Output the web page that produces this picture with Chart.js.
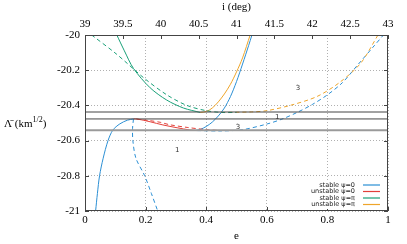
<!DOCTYPE html>
<html lang="en">
<head>
<meta charset="UTF-8">
<title>Lambda vs e</title>
<script src="https://cdn.jsdelivr.net/npm/chart.js"></script>
<style>
  html, body { margin: 0; padding: 0; background: #fff; }
  #wrap { width: 407px; height: 244px; }
</style>
</head>
<body>
<div id="wrap"><canvas id="chart"></canvas></div>
<script>
// curves as [e, Lambda] pairs
const stable0Left = [[0.035,-21],[0.041,-20.9],[0.048,-20.8],[0.06,-20.7],[0.076,-20.6],[0.092,-20.54],[0.115,-20.505],[0.14,-20.484],[0.16,-20.477]];
const stable0Right = [[0.363,-20.543],[0.38,-20.537],[0.40,-20.52],[0.42,-20.495],[0.44,-20.46],[0.46,-20.415],[0.48,-20.35],[0.50,-20.265],[0.52,-20.165],[0.54,-20.06],[0.551,-20]];
const stable0DashLeft = [[0.16,-20.477],[0.157,-20.53],[0.158,-20.6],[0.168,-20.7],[0.197,-20.8],[0.219,-20.9],[0.24,-21]];
const stable0DashRight = [[0.37,-20.543],[0.45,-20.545],[0.52,-20.538],[0.6,-20.506],[0.65,-20.478],[0.7,-20.44],[0.75,-20.395],[0.8,-20.34],[0.85,-20.27],[0.9,-20.17],[0.95,-20.07],[0.985,-20]];
const unstable0 = [[0.16,-20.477],[0.172,-20.477],[0.215,-20.493],[0.257,-20.511],[0.304,-20.527],[0.347,-20.54],[0.37,-20.543]];
const unstable0Dash = [[0.17,-20.478],[0.215,-20.487],[0.248,-20.496],[0.28,-20.51],[0.337,-20.525],[0.396,-20.537],[0.446,-20.543]];
const stablePi = [[0.105,-20],[0.13,-20.09],[0.16,-20.19],[0.215,-20.30],[0.27,-20.37],[0.325,-20.415],[0.38,-20.44]];
const stablePiDash = [[0.022,-20],[0.105,-20.11],[0.195,-20.245],[0.27,-20.34],[0.336,-20.40],[0.40,-20.43],[0.45,-20.44],[0.5,-20.44]];
const unstablePi = [[0.38,-20.44],[0.40,-20.435],[0.42,-20.415],[0.44,-20.38],[0.46,-20.335],[0.48,-20.28],[0.50,-20.21],[0.52,-20.13],[0.545,-20]];
const unstablePiDash = [[0.45,-20.44],[0.55,-20.437],[0.6,-20.43],[0.677,-20.40],[0.765,-20.35],[0.84,-20.27],[0.91,-20.16],[0.967,-20]];

const levels = [-20.4375, -20.477, -20.541];
const curveMarks = [['3', 0.703, -20.30], ['1', 0.634, -20.466], ['3', 0.505, -20.523], ['1', 0.304, -20.653]];
const legendLabels = ['stable \u03c8=0', 'unstable \u03c8=0', 'stable \u03c8=\u03c0', 'unstable \u03c8=\u03c0'];

const BLUE = '#2b8fd4', RED = '#e2403a', GREEN = '#19a078', ORANGE = '#eea52a';
const legendColors = [BLUE, RED, GREEN, ORANGE];
const serif = '"Times New Roman", "Liberation Serif", "DejaVu Serif", serif';

const pts = arr => arr.map(p => ({ x: p[0], y: p[1] }));
function curve(arr, color, dashed) {
  return {
    data: pts(arr), borderColor: color, borderWidth: 1, showLine: true,
    pointRadius: 0, tension: 0.3, borderDash: dashed ? [4, 3] : []
  };
}

const datasets = [
  { data: [{x: 0, y: levels[2]}, {x: 1, y: levels[2]}], borderColor: '#9a9a9a', borderWidth: 2, showLine: true, pointRadius: 0 },
  { data: [{x: 0, y: levels[0]}, {x: 1, y: levels[0]}], borderColor: '#444', borderWidth: 1, showLine: true, pointRadius: 0 },
  { data: [{x: 0, y: levels[1]}, {x: 1, y: levels[1]}], borderColor: '#444', borderWidth: 1, showLine: true, pointRadius: 0 },
  curve(stablePiDash, GREEN, true),
  curve(unstablePiDash, ORANGE, true),
  curve(stable0DashLeft, BLUE, true),
  curve(stable0DashRight, BLUE, true),
  curve(unstable0Dash, RED, true),
  curve(unstable0, RED, false),
  curve(stablePi, GREEN, false),
  curve(unstablePi, ORANGE, false),
  curve(stable0Left, BLUE, false),
  curve(stable0Right, BLUE, false)
];

// frame, inward ticks, y label, curve marks and legend
const extras = {
  id: 'extras',
  afterDraw(chart) {
    const { ctx, chartArea: a, scales } = chart;
    ctx.save();
    ctx.strokeStyle = '#444';
    ctx.lineWidth = 1;
    ctx.strokeRect(a.left + 0.5, a.top + 0.5, a.right - a.left - 1, a.bottom - a.top - 1);
    ctx.beginPath();
    scales.y.ticks.forEach(t => {
      const y = Math.round(scales.y.getPixelForValue(t.value)) + 0.5;
      ctx.moveTo(a.left, y); ctx.lineTo(a.left + 4, y);
      ctx.moveTo(a.right, y); ctx.lineTo(a.right - 4, y);
    });
    scales.x.ticks.forEach(t => {
      const x = Math.round(scales.x.getPixelForValue(t.value)) + 0.5;
      ctx.moveTo(x, a.bottom); ctx.lineTo(x, a.bottom - 4);
    });
    scales.x2.ticks.forEach(t => {
      const x = Math.round(scales.x2.getPixelForValue(t.value)) + 0.5;
      ctx.moveTo(x, a.top); ctx.lineTo(x, a.top + 4);
    });
    ctx.stroke();

    // y axis label
    ctx.fillStyle = '#000';
    ctx.textBaseline = 'alphabetic';
    ctx.textAlign = 'left';
    ctx.font = '11px ' + serif;
    let x = 4, base = 127;
    const s1 = '\u039b\u0304 (km';
    ctx.fillText(s1, x, base);
    x += ctx.measureText(s1).width;
    ctx.font = '8px ' + serif;
    ctx.fillText('1/2', x, base - 5);
    x += ctx.measureText('1/2').width;
    ctx.font = '11px ' + serif;
    ctx.fillText(')', x, base);

    // numbers on curves
    ctx.font = '7px "DejaVu Sans"';
    ctx.fillStyle = '#333';
    ctx.textAlign = 'center';
    ctx.textBaseline = 'middle';
    curveMarks.forEach(m => {
      ctx.fillText(m[0], scales.x.getPixelForValue(m[1]), scales.y.getPixelForValue(m[2]));
    });

    // legend
    ctx.fillStyle = '#fff';
    ctx.fillRect(312, 181, 74, 28);
    ctx.font = '6.5px "DejaVu Sans"';
    ctx.textAlign = 'right';
    legendLabels.forEach((lab, i) => {
      const y = 185 + i * 6.5;
      ctx.fillStyle = '#222';
      ctx.fillText(lab, 355, y);
      ctx.strokeStyle = legendColors[i];
      ctx.lineWidth = 1.2;
      ctx.beginPath();
      ctx.moveTo(363, y); ctx.lineTo(380, y);
      ctx.stroke();
    });
    ctx.restore();
  }
};

const tickFont = { family: serif, size: 11 };
const plain = v => String(Math.round(v * 100) / 100);

new Chart(document.getElementById('chart'), {
  type: 'scatter',
  data: { datasets },
  options: {
    responsive: true,
    maintainAspectRatio: false,
    animation: false,
    layout: { padding: { left: 0, right: 19, top: 0, bottom: 0 } },
    plugins: { legend: { display: false }, tooltip: { enabled: false } },
    scales: {
      x: {
        type: 'linear', position: 'bottom', min: 0, max: 1,
        ticks: { stepSize: 0.2, color: '#000', font: tickFont, padding: 3, maxRotation: 0, callback: plain },
        grid: { color: '#b0b0b0', drawTicks: false },
        border: { display: false, dash: [1, 2] },
        title: { display: true, text: 'e', color: '#000', font: tickFont, padding: { top: 0, bottom: 1 } },
        afterFit: s => { s.height = 33; }
      },
      x2: {
        type: 'linear', position: 'top', min: 39, max: 43,
        ticks: { stepSize: 0.5, color: '#000', font: tickFont, padding: 4, maxRotation: 0, callback: plain },
        grid: { display: false, drawTicks: false },
        border: { display: false },
        title: { display: true, text: 'i (deg)', color: '#000', font: tickFont, padding: { top: 1, bottom: 0 } },
        afterFit: s => { s.height = 35; }
      },
      y: {
        type: 'linear', min: -21, max: -20,
        ticks: { stepSize: 0.2, color: '#000', font: tickFont, padding: 5, callback: plain },
        grid: { color: '#b0b0b0', drawTicks: false },
        border: { display: false, dash: [1, 2] },
        afterFit: s => { s.width = 85; }
      }
    }
  },
  plugins: [extras]
});
</script>
</body>
</html>
